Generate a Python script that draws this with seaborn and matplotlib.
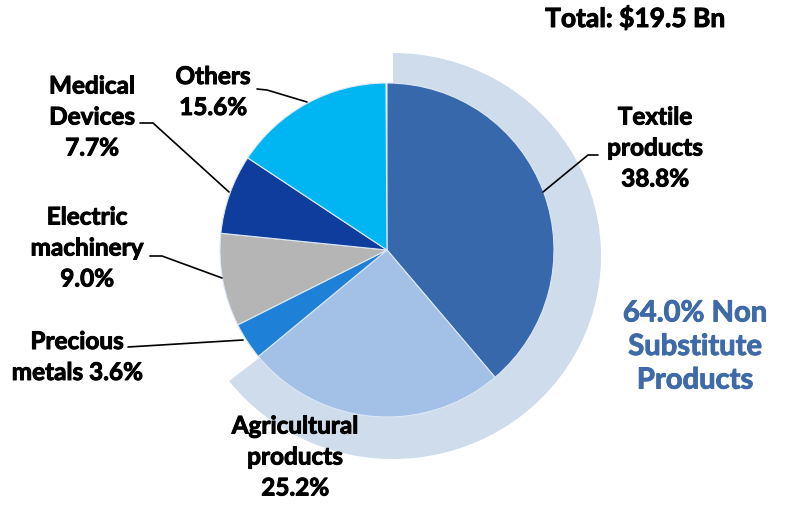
import matplotlib
matplotlib.use("Agg")
import matplotlib.pyplot as plt
from matplotlib.patches import Wedge
from matplotlib.transforms import Affine2D
import matplotlib.patheffects as pe
import seaborn as sns

categories = ["Textile products", "Agricultural products", "Precious metals",
              "Electric machinery", "Medical Devices", "Others"]
shares = [38.8, 25.2, 3.6, 9.0, 7.7, 15.6]
label_texts = ["Textile\nproducts\n38.8%", "Agricultural\nproducts\n25.2%",
               "Precious\nmetals 3.6%", "Electric\nmachinery\n9.0%",
               "Medical\nDevices\n7.7%", "Others\n15.6%"]
non_substitute_share = 64.0
total_text = "Total: $19.5 Bn"

sns.set_theme(style="white")
plt.rcParams['font.family'] = ['Lato', 'DejaVu Sans']

colors = sns.color_palette(["#3768AB", "#A3C0E6", "#1F80D8", "#B5B5B5", "#0E3D9E", "#00B6F2"])

W, H = 789, 505
fig = plt.figure(figsize=(W / 100, H / 100), dpi=100)
ax = fig.add_axes([0, 0, 1, 1])
ax.set_xlim(0, W)
ax.set_ylim(H, 0)
ax.set_aspect("equal")
ax.axis("off")

cx, cy, r = 387, 250, 167

# background arc for non substitute products (y axis inverted: screen angle = -theta)
span = 232.0
arc = Wedge((0, 0), 1.0, -90, -(90 - span), facecolor="#CFDCEB", edgecolor="none", zorder=0,
            transform=Affine2D().scale(208, 203).translate(393, 256) + ax.transData)
ax.add_patch(arc)

ang = 90.0
for s, c in zip(shares, colors):
    t2 = ang
    t1 = ang - s / 100 * 360
    wd = Wedge((cx, cy), r, -t2, -t1, facecolor=c, edgecolor="#DCE8F6", linewidth=0.8, zorder=2)
    ax.add_patch(wd)
    ang = t1

bold_fx = [pe.withStroke(linewidth=0.7, foreground="black")]
fs = 17.5
kw = dict(fontsize=fs, fontweight="bold", color="black", ha="center", va="center",
          linespacing=1.42, zorder=5, path_effects=bold_fx)

ax.text(635, 18, total_text, **dict(kw, fontsize=19))
ax.text(655, 148, label_texts[0], **kw)
ax.text(295, 457, label_texts[1], **kw)
ax.text(77, 357, label_texts[2], **kw)
ax.text(87, 248, label_texts[3], **kw)
ax.text(92, 117, label_texts[4], **kw)
ax.text(213, 92, label_texts[5], **kw)

ax.text(695, 347, f"{non_substitute_share:.1f}% Non\nSubstitute\nProducts",
        fontsize=21, fontweight="bold", color="#3F6AA8", ha="center", va="center",
        linespacing=1.36, zorder=5,
        path_effects=[pe.withStroke(linewidth=0.7, foreground="#3F6AA8")])

lk = dict(color="black", linewidth=1.2, zorder=4)
ax.plot([543, 588, 598], [192, 155, 155], **lk)
ax.plot([257, 267, 307], [89, 90, 102], **lk)
ax.plot([140, 153, 229], [123, 123, 192], **lk)
ax.plot([150, 162, 222], [256, 256, 278], **lk)
ax.plot([128, 243], [347, 340], **lk)

fig.savefig("out.png", dpi=100)
